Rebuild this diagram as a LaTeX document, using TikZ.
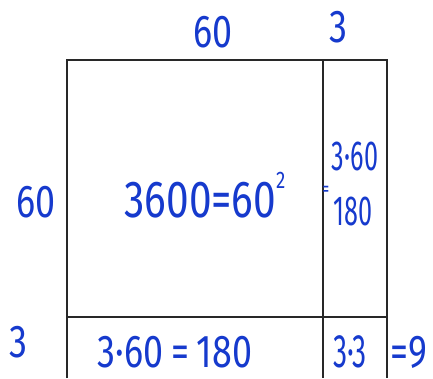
\documentclass[tikz,border=0pt]{standalone}
\usepackage{fontspec}
\setmainfont{Fira Sans}
\newfontfamily\penfont[FakeStretch=0.78]{Fira Sans}
\newfontfamily\pennarrow[FakeStretch=0.6]{Fira Sans}
\usepackage{tikz}
\usetikzlibrary{positioning}
\definecolor{penBlue}{RGB}{22,58,205}
\definecolor{gridLine}{RGB}{40,40,40}

\begin{document}
\begin{tikzpicture}[x=1pt,y=-1pt,
  hand/.style  ={text=penBlue,inner sep=0pt,anchor=base,font=\penfont\fontsize{46}{50}\selectfont},
  narrow/.style={text=penBlue,inner sep=0pt,anchor=base,font=\pennarrow\fontsize{42}{46}\selectfont},
  big/.style   ={text=penBlue,inner sep=0pt,anchor=base,font=\penfont\fontsize{52}{56}\selectfont},
  edge/.style  ={draw=gridLine,line width=1.5pt}]
\useasboundingbox (0,0) rectangle (433,378);

\coordinate (tl) at (67,60);
\coordinate (tm) at (323,60);
\coordinate (tr) at (387,60);
\coordinate (bl) at (67,378);
\coordinate (bm) at (323,378);
\coordinate (br) at (387,378);
\coordinate (ml) at (67,317);
\coordinate (mr) at (387,317);

\draw[edge] (bl) -- (tl) -- (tr) -- (br);
\draw[edge] (tm) -- (bm);
\draw[edge] (ml) -- (mr);

\node[hand]   (top60)  at (213,47)  {60};
\node[hand]   (top3)   at (338,42)  {3};
\node[hand]   (left60) at (36,217)  {60};
\node[hand]   (left3)  at (18,357)  {3};
\node[big]    (square) at (205,217) {3600=60\raisebox{0.55em}{\fontsize{24}{26}\selectfont 2}};
\node[narrow] (rtop)   at (355,170) {3·60};
\node[narrow] (req)    at (326,196) {\fontsize{22}{24}\selectfont =};
\node[narrow] (rbot)   at (353,225) {180};
\node[hand]   (bottom) at (175,367) {3·60\,=\,180};
\node[narrow,font=\pennarrow\fontsize{47}{50}\selectfont] (corner) at (350,367) {3·3};
\node[hand]   (nine)   at (409,367) {=9};
\end{tikzpicture}
\end{document}
